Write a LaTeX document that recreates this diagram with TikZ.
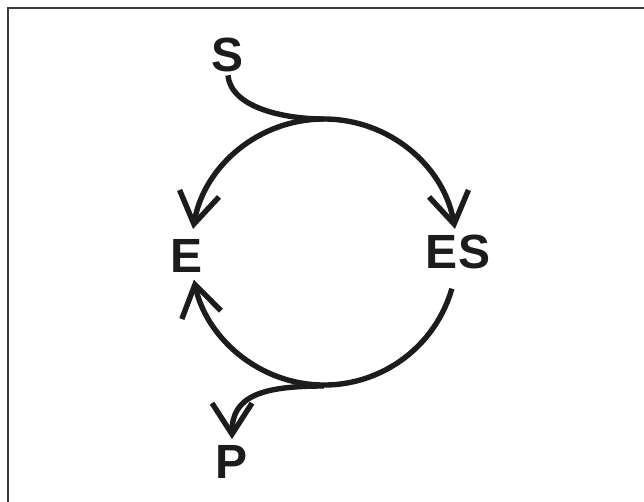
\documentclass[tikz,border=0pt]{standalone}
\usepackage{fontspec}
\setmainfont{Liberation Sans}
\usetikzlibrary{arrows.meta}

\tikzset{every picture/.style={line width=0.75pt}}
\tikzset{
  cycleline/.style={line width=5.4pt, color={rgb, 255:red, 28; green, 28; blue, 28}},
  barb/.style={-{Straight Barb[length=31pt, width=40pt]}},
  species/.style={font=\fontsize{48}{48}\selectfont\bfseries, inner sep=3pt, color={rgb, 255:red, 28; green, 28; blue, 28}}
}

\begin{document}
\begin{tikzpicture}[x=1pt,y=1pt,yscale=-1,xscale=1]
\useasboundingbox (0,0) rectangle (644,502);
%Frame lines
\draw [line width=1.6pt, color={rgb, 255:red, 60; green, 60; blue, 60}] (8,502) -- (8,8) -- (644,8) ;
% Text Node
\node [species] (S) at (228,55) {S};
% Text Node
\node [species] (E) at (187,256) {E};
% Text Node
\node [species] (ES) at (458,252) {ES};
% Text Node
\node [species] (P) at (232,462) {P};
%Circle points
\coordinate (centre) at (324,252);
\coordinate (top) at (324,119);
\coordinate (bot) at (324,386);
%Curve Lines: S joins the cycle
\draw [cycleline] (S.south) .. controls (231,108) and (285,119) .. (top) ;
%Arc: towards ES
\draw [cycleline, barb] (top) arc [start angle=-90, end angle=-10, radius=133] ;
%Arc: back to E
\draw [cycleline, barb] (top) arc [start angle=-90, end angle=-170, radius=133] ;
%Arc: from ES round the bottom to E
\draw [cycleline, barb] (centre) ++(16:133) arc [start angle=16, end angle=168, radius=133] ;
%Curve Lines: P leaves the cycle
\draw [cycleline, barb] (bot) .. controls (262,386) and (232,396) .. ([yshift=-3pt]P.north) ;
\end{tikzpicture}
\end{document}
